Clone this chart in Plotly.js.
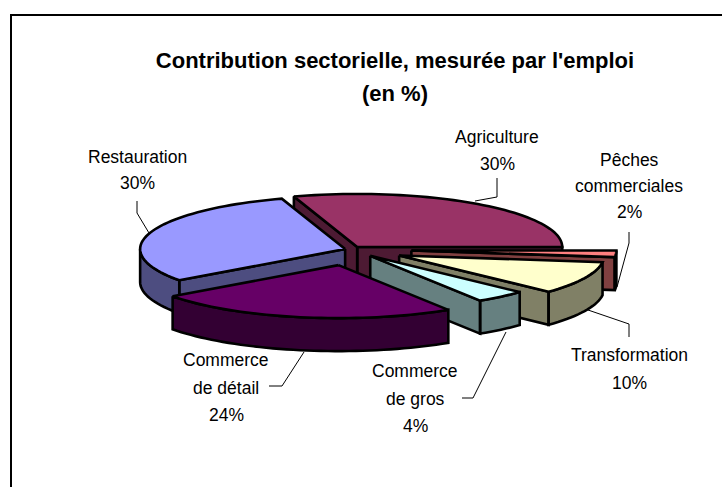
<!DOCTYPE html>
<html><head><meta charset="utf-8">
<script src="https://cdn.plot.ly/plotly-3.0.1.min.js"></script>
<style>html,body{margin:0;padding:0;background:#fff}#c{width:722px;height:487px}</style>
</head><body><div id="c"></div>
<script>
// Data
const categories = ["Agriculture","Pêches commerciales","Transformation","Commerce de gros","Commerce de détail","Restauration"];
const shares = [30,2,10,4,24,30];
const pull = [0.06,0.30,0.265,0.155,0.30,0.025];
const topColors = ["#993366","#FF8080","#FFFFCC","#CCFFFF","#660066","#9999FF"];
const sideColors = ["#4D1A33","#804040","#808066","#668080","#330033","#4D4D80"];
const labelLines = [["Agriculture","30%"],["Pêches","commerciales","2%"],["Transformation","10%"],["Commerce","de gros","4%"],["Commerce","de détail","24%"],["Restauration","30%"]];
const labelCentres = [[497,137,27],[629,160,26],[629,355,28],[415,371,27.5],[226,360,27.5],[137,157,26]];
const drawOrder = [0,1,2,3,5,4];

// Projection of the 3-D pie
const cx=350, cy=249.5, rx=205, ry=53, depth=33, startAngle=108;
const rad=d=>d*Math.PI/180;
let acc=startAngle;
const slices=shares.map((v,i)=>{
  const t2=acc, t1=acc-v*3.6; acc=t1;
  const mid=(t1+t2)/2, e=pull[i]*rx;
  const ax=cx+e*Math.cos(rad(mid)), ay=cy-e*(ry/rx)*Math.sin(rad(mid));
  return {t1,t2,ax,ay,i};
});
function pt(s,t,dz){return [s.ax+rx*Math.cos(rad(t)), s.ay-ry*Math.sin(rad(t))+dz];}
function arc(s,a,b,dz){const n=Math.max(2,Math.ceil(Math.abs(b-a)/2)),o=[];for(let k=0;k<=n;k++)o.push(pt(s,a+(b-a)*k/n,dz));return o;}
function addPoly(xs,ys,p){p.forEach(q=>{xs.push(q[0]);ys.push(q[1]);});xs.push(p[0][0],null);ys.push(p[0][1],null);}
const traces=[];
drawOrder.forEach(idx=>{
  const s=slices[idx], xs=[], ys=[];
  const cut=t=>{const p=pt(s,t,0),q=pt(s,t,depth);addPoly(xs,ys,[[s.ax,s.ay],p,q,[s.ax,s.ay+depth]]);};
  if(Math.cos(rad(s.t2))<-1e-9) cut(s.t2);
  if(Math.cos(rad(s.t1))>1e-9) cut(s.t1);
  for(let base=-720;base<=720;base+=360){
    const a=Math.max(s.t1,base+180), b=Math.min(s.t2,base+360);
    if(b>a) addPoly(xs,ys,arc(s,a,b,0).concat(arc(s,b,a,depth)));
  }
  traces.push({type:"scatter",mode:"lines",x:xs,y:ys,fill:"toself",fillcolor:sideColors[idx],line:{color:"#000",width:2.6,simplify:false},hoverinfo:"skip",showlegend:false,name:categories[idx]+" (côté)"});
  const tx=[],ty=[];
  addPoly(tx,ty,[[s.ax,s.ay]].concat(arc(s,s.t1,s.t2,0)));
  traces.push({type:"scatter",mode:"lines",x:tx,y:ty,fill:"toself",fillcolor:topColors[idx],line:{color:"#000",width:2.6,simplify:false},hoverinfo:"text",text:categories[idx]+" "+shares[idx]+"%",showlegend:false,name:categories[idx]});
});

const leaders=[
 "M137,201 L137,213 L149,233",
 "M497,178 L497,197 L475,201",
 "M629,232 L629,243 L617,287",
 "M629,337 L629,324 L588,310",
 "M462,398 L473,398 L506,332",
 "M269,386 L282,386 L304,352"
];
const shapes=leaders.map(p=>({type:"path",path:p,xref:"x",yref:"y",line:{color:"#000",width:1},layer:"above"}));
// Chart frame: only its top and left sides fall inside the picture
shapes.push({type:"path",path:"M11,487 L11,15 L722,15",xref:"x",yref:"y",line:{color:"#000",width:2},layer:"below"});

const FONT="Liberation Sans, Arial, sans-serif";
const annotations=[];
labelLines.forEach((lines,i)=>{
  const c=labelCentres[i];
  lines.forEach((t,k)=>annotations.push({xref:"x",yref:"y",x:c[0],y:c[1]+k*c[2],text:t,showarrow:false,xanchor:"center",yanchor:"middle",font:{family:FONT,size:17.5,color:"#000"}}));
});
annotations.push({xref:"x",yref:"y",x:395,y:93,text:"<b>(en %)</b>",showarrow:false,xanchor:"center",yanchor:"middle",font:{family:FONT,size:22,color:"#000"}});

Plotly.newPlot("c",traces,{
  width:722,height:487,margin:{l:0,r:0,t:0,b:0},
  paper_bgcolor:"#fff",plot_bgcolor:"#fff",showlegend:false,
  title:{text:"<b>Contribution sectorielle, mesurée par l'emploi</b>",x:395/722,xanchor:"center",y:1-60/487,yanchor:"middle",font:{family:FONT,size:22,color:"#000"}},
  xaxis:{range:[0,722],visible:false,fixedrange:true},
  yaxis:{range:[487,0],visible:false,fixedrange:true},
  shapes,annotations
},{displayModeBar:false});
</script></body></html>
